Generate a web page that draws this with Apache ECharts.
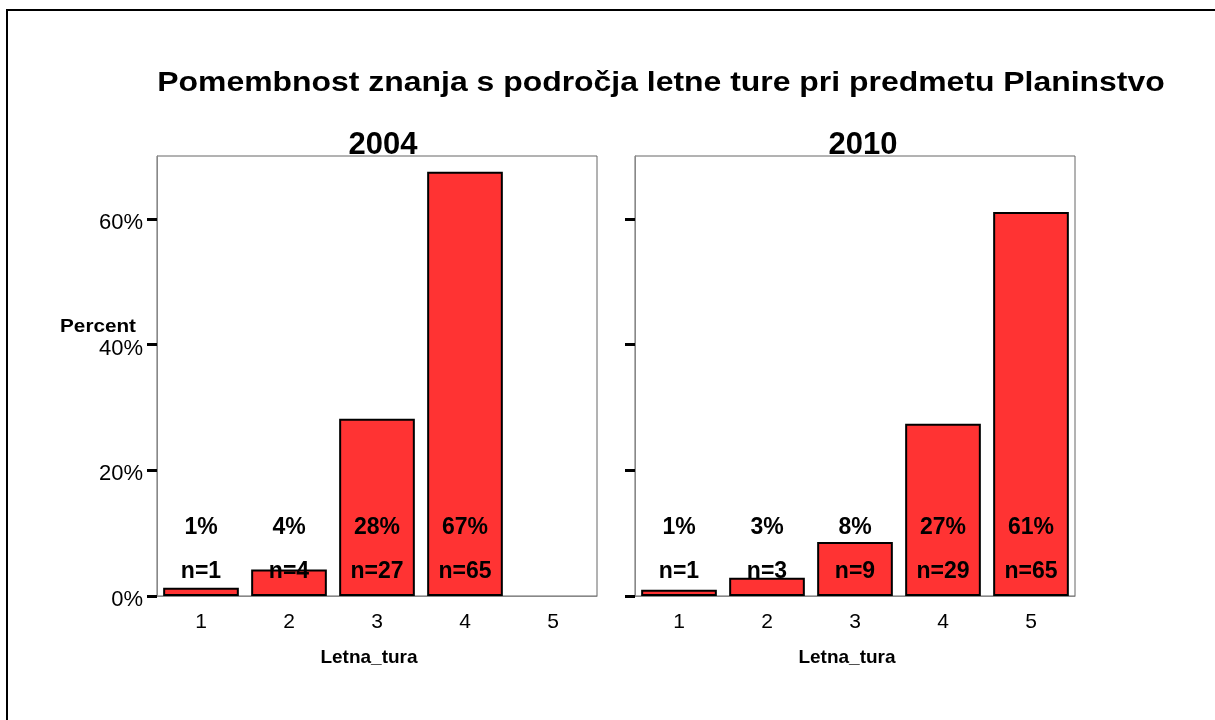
<!DOCTYPE html>
<html>
<head>
<meta charset="utf-8">
<script src="https://cdn.jsdelivr.net/npm/echarts@6/dist/echarts.min.js"></script>
<style>
  html, body { margin: 0; padding: 0; background: #fff; }
  #chart { width: 1215px; height: 720px; }
</style>
</head>
<body>
<div id="chart"></div>
<script>
// categories and values
const categories = ['1', '2', '3', '4', '5'];
const years = ['2004', '2010'];
const pct2004 = [1.3, 4.2, 28.2, 67.5, null];   // nobody picked 5 in 2004
const pct2010 = [1.0, 2.9, 8.6, 27.4, 61.1];
const pctLabels2004 = ['1%', '4%', '28%', '67%', ''];
const pctLabels2010 = ['1%', '3%', '8%', '27%', '61%'];
const nLabels2004 = ['n=1', 'n=4', 'n=27', 'n=65', ''];
const nLabels2010 = ['n=1', 'n=3', 'n=9', 'n=29', 'n=65'];
const yTicks = [0, 20, 40, 60];

// label rows sit at fixed heights in the plot
const pctRowY = 10.8;
const nRowY = 3.8;

const FONT = 'Liberation Sans, Arial, sans-serif';
const barColor = '#ff3333';

const chart = echarts.init(document.getElementById('chart'));

const grids = [
   { left: 157, top: 156, width: 440, height: 440 },
   { left: 635, top: 156, width: 440, height: 440 }
];

function makeXAxis(i)
{
   return {
      type: 'category',
      gridIndex: i,
      data: categories,
      axisLine: { lineStyle: { color: '#888', width: 1 } },
      axisTick: { alignWithLabel: true, length: 7, lineStyle: { color: '#000', width: 3 } },
      axisLabel: { color: '#000', fontSize: 21, fontFamily: FONT, margin: 16 },
      name: 'Letna_tura',
      nameLocation: 'middle',
      nameGap: 52,
      nameTextStyle: { color: '#000', fontSize: 19, fontWeight: 'bold', fontFamily: FONT, padding: [0, 16, 0, 0] }
   };
}

function makeYAxis(i)
{
   return {
      type: 'value',
      gridIndex: i,
      min: 0,
      max: 70,
      interval: 20,
      splitLine: { show: false },
      axisLine: { show: true, lineStyle: { color: '#888', width: 1 } },
      axisTick: { show: true, customValues: yTicks, length: 10, lineStyle: { color: '#000', width: 3 } },
      axisLabel: {
         show: i === 0,
         customValues: yTicks,
         formatter: '{value}%',
         color: '#000',
         fontSize: 22,
         fontFamily: FONT,
         margin: 14,
         verticalAlign: 'top',
         padding: [-7, 0, 0, 0]
      }
   };
}

function barSeries(i, values)
{
   return {
      type: 'bar',
      xAxisIndex: i,
      yAxisIndex: i,
      data: values,
      barCategoryGap: '14%',
      itemStyle: { color: barColor, borderColor: '#000', borderWidth: 2 },
      z: 2
   };
}

function labelSeries(i, yVal, texts)
{
   return {
      type: 'scatter',
      xAxisIndex: i,
      yAxisIndex: i,
      symbolSize: 0,
      itemStyle: { opacity: 1 },
      data: categories.map((c, k) => [k, yVal]),
      label: {
         show: true,
         position: 'inside',
         formatter: (p) => texts[p.dataIndex],
         color: '#000',
         fontSize: 23,
         fontWeight: 'bold',
         fontFamily: FONT
      },
      silent: true,
      z: 5
   };
}

const option =
{
   animation: false,
   backgroundColor: '#fff',
   grid: grids.map(g => Object.assign({ show: true, borderColor: '#666', borderWidth: 1, backgroundColor: 'transparent' }, g)),
   xAxis: [makeXAxis(0), makeXAxis(1)],
   yAxis: [makeYAxis(0), makeYAxis(1)],
   series: [
      barSeries(0, pct2004),
      barSeries(1, pct2010),
      labelSeries(0, pctRowY, pctLabels2004),
      labelSeries(0, nRowY, nLabels2004),
      labelSeries(1, pctRowY, pctLabels2010),
      labelSeries(1, nRowY, nLabels2010)
   ],
   graphic: [
      {
         type: 'rect',
         shape: { x: 7, y: 10, width: 1230, height: 730 },
         style: { fill: 'none', stroke: '#000', lineWidth: 2 },
         silent: true
      },
      {
         type: 'text',
         x: 661, y: 83,
         scaleX: 1.14,
         style: {
            text: 'Pomembnost znanja s področja letne ture pri predmetu Planinstvo',
            fill: '#000', font: 'bold 28px ' + FONT,
            textAlign: 'center', textVerticalAlign: 'middle'
         }
      },
      {
         type: 'text',
         x: 383, y: 145,
         z: 10,
         style: { text: years[0], fill: '#000', font: 'bold 31px ' + FONT, textAlign: 'center', textVerticalAlign: 'middle' }
      },
      {
         type: 'text',
         x: 863, y: 145,
         z: 10,
         style: { text: years[1], fill: '#000', font: 'bold 31px ' + FONT, textAlign: 'center', textVerticalAlign: 'middle' }
      },
      {
         type: 'text',
         x: 136, y: 327,
         scaleX: 1.15,
         style: { text: 'Percent', fill: '#000', font: 'bold 18px ' + FONT, textAlign: 'right', textVerticalAlign: 'middle' }
      }
   ]
};

chart.setOption(option);
</script>
</body>
</html>
